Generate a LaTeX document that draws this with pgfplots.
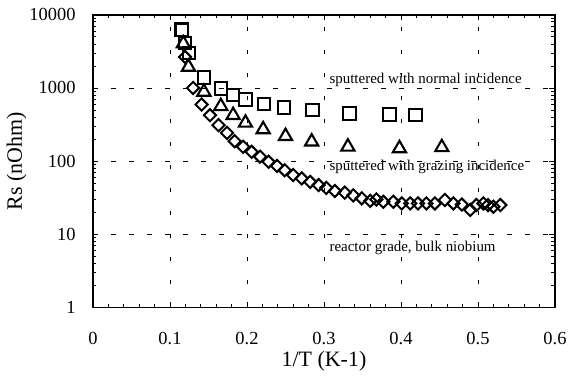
\documentclass[border=0pt]{standalone}
\usepackage{pgfplots}
\pgfplotsset{compat=1.18}
\usepackage{fontspec}
\setmainfont{Liberation Serif}
\begin{document}
\begin{tikzpicture}[x=1bp,y=1bp]
\path[use as bounding box] (-93bp,-70bp) rectangle (476bp,307.4bp);
\begin{axis}[
  at={(0,0)}, anchor=south west,
  scale only axis, width=462bp, height=292.6bp,
  xmin=0, xmax=0.6, ymin=1, ymax=10000,
  ymode=log,
  xtick={0,0.1,...,0.6},
  minor x tick num=4,
  ytick={1,10,100,1000,10000},
  yticklabels={1,10,100,1000,10000},
  xticklabels={0,0.1,0.2,0.3,0.4,0.5,0.6},
  tick align=inside,
  major tick length=5.5bp, minor tick length=3.5bp,
  every tick/.style={black, line width=0.8bp},
  axis line style={line width=1.8bp},
  grid=major,
  major x grid style={black, line width=0.5bp, dash pattern=on 4bp off 19bp},
  major y grid style={black, line width=0.5bp, dash pattern=on 5bp off 13bp},
  ticklabel style={font=\fontsize{18.5}{18.5}\selectfont},
  xticklabel style={yshift=-21bp},
  yticklabel style={xshift=-14bp},
  xlabel={1/T (K-1)}, ylabel={Rs (nOhm)},
  label style={font=\fontsize{22}{22}\selectfont},
  xlabel style={yshift=-0.5bp},
  ylabel style={yshift=-4bp},
  clip=false,
]
\addplot[only marks, mark=square, mark size=6.2bp, mark options={line width=2.1bp, black}] coordinates {
(0.1152,6265) (0.1195,4110) (0.1250,3005) (0.1440,1387) (0.1660,982) (0.1820,795)
(0.1980,695) (0.2220,600) (0.2480,541) (0.2850,497) (0.3330,448) (0.3850,434) (0.4190,424)
};
\addplot[only marks, mark=triangle, mark size=7.6bp, mark options={line width=2.1bp, black}] coordinates {
(0.1173,4035) (0.1240,1935) (0.1440,883) (0.1660,562) (0.1820,424) (0.1980,333)
(0.2210,271) (0.2500,219) (0.2840,184) (0.3310,157) (0.3980,149) (0.4530,154)
};
\addplot[only marks, mark=square, mark size=4.3bp, mark options={rotate=45, line width=2bp, black}] coordinates {
(0.1195,2650) (0.1300,1000) (0.1410,593) (0.1520,424) (0.1630,310) (0.1740,243)
(0.1840,187) (0.1950,157) (0.2060,134) (0.2170,115) (0.2280,98) (0.2390,86)
(0.2490,75) (0.2600,64.5) (0.2710,58) (0.2820,52) (0.2930,47) (0.3030,43)
(0.3140,39) (0.3270,37) (0.3380,34) (0.3490,31) (0.3600,28.6) (0.3680,29.9)
(0.3770,27.8) (0.3900,27.8) (0.4010,26.4) (0.4120,26.4) (0.4220,26.4) (0.4330,26.4)
(0.4440,26.4) (0.4570,29.4) (0.4680,26.4) (0.4790,25.5) (0.4900,21.5) (0.4980,25.1)
(0.5070,26.4) (0.5130,25.1) (0.5200,23.8) (0.5290,25.1)
};
\node[anchor=west, inner sep=0pt, font=\fontsize{15}{15}\selectfont] at (axis cs:0.307,1303) {sputtered with normal incidence};
\node[anchor=west, inner sep=0pt, font=\fontsize{15}{15}\selectfont] at (axis cs:0.307,83.6) {sputtered with grazing incidence};
\node[anchor=west, inner sep=0pt, font=\fontsize{15}{15}\selectfont] at (axis cs:0.307,6.56) {reactor grade, bulk niobium};
\end{axis}
\end{tikzpicture}
\end{document}
